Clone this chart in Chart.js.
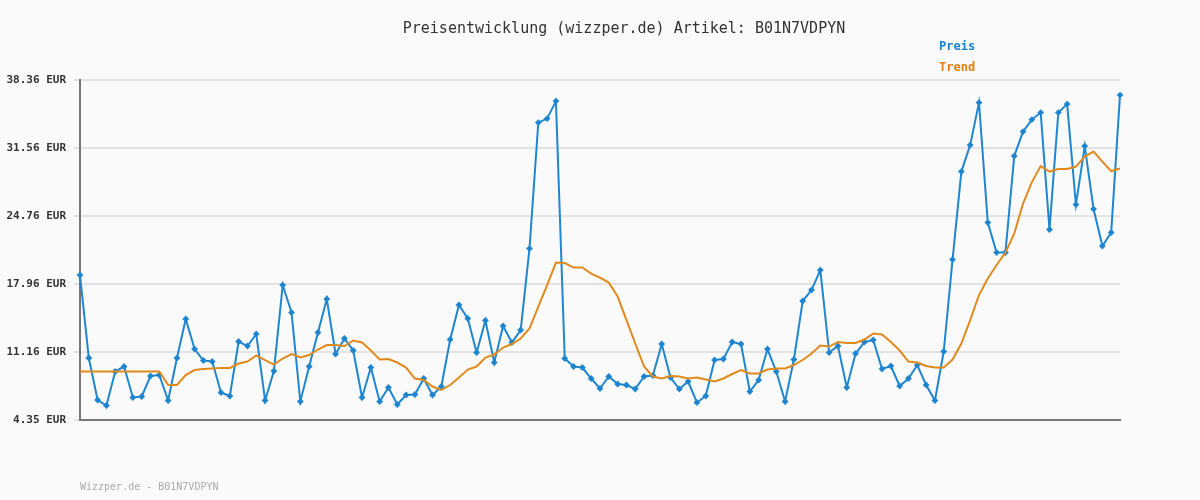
<!DOCTYPE html>
<html>
<head>
<meta charset="utf-8">
<script src="https://cdn.jsdelivr.net/npm/chart.js@4/dist/chart.umd.min.js"></script>
<style>
  body { margin: 0; background: #fafafa; }
  #wrap { position: relative; width: 1200px; height: 500px; font-family: "DejaVu Sans Mono", monospace; }
  #title { position: absolute; top: 19px; left: 0; width: 1248px; text-align: center; font-size: 15px; color: #333; }
  .leg { position: absolute; left: 939px; font-size: 12px; font-weight: bold; }
  #foot { position: absolute; left: 80px; top: 481px; font-size: 10px; color: #aaa; }
</style>
</head>
<body>
<div id="wrap">
  <canvas id="chart" width="1200" height="500"></canvas>
  <div id="title">Preisentwicklung (wizzper.de) Artikel: B01N7VDPYN</div>
  <div class="leg" style="top:39px;color:#1a7fc9">Preis</div>
  <div class="leg" style="top:60px;color:#e07f10">Trend</div>
  <div id="foot">Wizzper.de - B01N7VDPYN</div>
</div>
<script>
const preis = [
  18.85, 10.55, 6.35, 5.8, 9.2, 9.7, 6.6, 6.7, 8.75, 8.85,
  6.3, 10.55, 14.45, 11.45, 10.3, 10.2, 7.1, 6.75, 12.2, 11.75,
  12.95, 6.3, 9.25, 17.85, 15.1, 6.2, 9.7, 13.1, 16.45, 10.95,
  12.5, 11.3, 6.6, 9.6, 6.2, 7.6, 5.9, 6.85, 6.9, 8.5,
  6.85, 7.7, 12.4, 15.85, 14.5, 11.1, 14.3, 10.1, 13.75, 12.1,
  13.35, 21.5, 34.1, 34.5, 36.25, 10.5, 9.7, 9.6, 8.5, 7.5,
  8.7, 7.95, 7.85, 7.45, 8.7, 8.8, 11.95, 8.6, 7.45, 8.2,
  6.1, 6.75, 10.35, 10.45, 12.15, 11.95, 7.2, 8.35, 11.45, 9.2,
  6.2, 10.4, 16.25, 17.35, 19.35, 11.1, 11.75, 7.6, 11.0, 12.15,
  12.35, 9.45, 9.75, 7.75, 8.5, 9.85, 7.85, 6.3, 11.2, 20.4,
  29.2, 31.85, 36.1, 24.1, 21.1, 21.1, 30.75, 33.2, 34.4, 35.1,
  23.4, 35.1, 35.95, 25.9, 31.75, 25.45, 21.75, 23.1, 36.85
];
const trend = [
  9.2, 9.2, 9.2, 9.2, 9.2, 9.2, 9.2, 9.2, 9.2, 9.2,
  7.85, 7.85, 8.85, 9.35, 9.45, 9.5, 9.55, 9.55, 10.0, 10.2,
  10.8, 10.35, 9.9, 10.5, 10.95, 10.6, 10.85, 11.4, 11.85, 11.85,
  11.75, 12.3, 12.1, 11.3, 10.4, 10.45, 10.1, 9.6, 8.5, 8.35,
  7.7, 7.35, 7.85, 8.6, 9.4, 9.7, 10.6, 10.9, 11.6, 11.95,
  12.5, 13.5, 15.7, 17.85, 20.1, 20.05, 19.6, 19.6, 19.0, 18.6,
  18.1, 16.7, 14.35, 12.0, 9.7, 8.7, 8.5, 8.75, 8.7, 8.5,
  8.6, 8.4, 8.2, 8.5, 8.95, 9.35, 9.0, 9.0, 9.4, 9.5,
  9.5, 9.85, 10.35, 11.0, 11.8, 11.7, 12.15, 12.05, 12.05, 12.4,
  13.0, 12.9, 12.15, 11.3, 10.2, 10.1, 9.75, 9.6, 9.6, 10.4,
  12.0, 14.35, 16.85, 18.5, 19.85, 21.1, 23.0, 26.0, 28.15, 29.75,
  29.2, 29.45, 29.45, 29.7, 30.7, 31.2, 30.2, 29.25, 29.5
];
const yTicks = [4.35, 11.16, 17.96, 24.76, 31.56, 38.36];
const labels = preis.map((_, i) => i + 1);

new Chart(document.getElementById('chart'), {
  type: 'line',
  data: {
    labels: labels,
    datasets: [
      {
        label: 'Trend',
        data: trend,
        borderColor: '#e08a1e',
        borderWidth: 2,
        pointRadius: 0,
        tension: 0
      },
      {
        label: 'Preis',
        data: preis,
        borderColor: '#1f86cf',
        backgroundColor: '#1077c4',
        borderWidth: 2,
        pointStyle: 'rectRot',
        pointRadius: 2,
        tension: 0
      }
    ]
  },
  options: {
    responsive: false,
    animation: false,
    layout: { padding: { top: 80, right: 80, bottom: 80, left: 0 } },
    plugins: { legend: { display: false }, tooltip: { enabled: false } },
    scales: {
      x: {
        offset: false,
        ticks: { display: false },
        grid: { display: false },
        border: { color: '#777', width: 2 },
        afterFit: s => { s.height = 0; }
      },
      y: {
        min: 4.35,
        max: 38.36,
        afterBuildTicks: s => { s.ticks = yTicks.map(v => ({ value: v })); },
        afterFit: s => { s.width = 80; },
        ticks: {
          callback: v => v.toFixed(2) + ' EUR',
          font: { family: 'DejaVu Sans Mono', size: 11, weight: 'bold' },
          color: '#333',
          padding: 8
        },
        grid: { color: '#e3e3e3', lineWidth: 2, drawTicks: true, tickLength: 6 },
        border: { color: '#777', width: 2 }
      }
    }
  }
});
</script>
</body>
</html>
